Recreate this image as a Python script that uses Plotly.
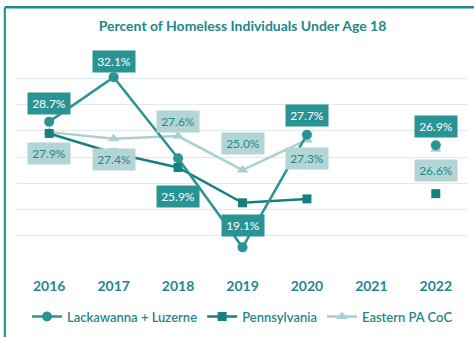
import plotly.graph_objects as go

years = ["2016", "2017", "2018", "2019", "2020", "2021", "2022"]
lackawanna = [28.7, 32.1, 25.9, 19.1, 27.7, None, 26.9]
pennsylvania = [27.8, 26.3, 25.2, 22.5, 22.8, None, 23.2]
eastern_pa = [27.9, 27.4, 27.6, 25.0, 27.3, None, 26.6]

# label offsets (pixels) relative to each point
lack_shift = [18, 16, -38, 22, 19, None, 19]
east_shift = [-21, -21, 15, 27, -19, None, -21]

TEAL = "#2A9494"
DARK = "#17807F"
LIGHT = "#A9CFCF"
TEXT = "#23878A"
FONT = "Lato"

fig = go.Figure()

fig.add_trace(go.Scatter(
    x=years, y=eastern_pa, name="Eastern PA CoC", mode="lines+markers",
    line=dict(color=LIGHT, width=2.5), marker=dict(symbol="triangle-up", size=10, color=LIGHT),
    legendrank=3,
))
fig.add_trace(go.Scatter(
    x=years, y=pennsylvania, name="Pennsylvania", mode="lines+markers",
    line=dict(color=DARK, width=2.5), marker=dict(symbol="square", size=9, color=DARK),
    legendrank=2,
))
fig.add_trace(go.Scatter(
    x=years, y=lackawanna, name="Lackawanna + Luzerne", mode="lines+markers",
    line=dict(color=TEAL, width=2.5), marker=dict(symbol="circle", size=10, color=TEAL),
    legendrank=1,
))

# category axes take the position index for annotations
for i, (v, s) in enumerate(zip(lackawanna, lack_shift)):
    if v is None:
        continue
    fig.add_annotation(
        x=i, y=v, text=f"{v:.1f}%", showarrow=False, yshift=s,
        font=dict(family=FONT, size=12, color="white"),
        bgcolor=TEAL, borderpad=3, width=36,
    )
for i, (v, s) in enumerate(zip(eastern_pa, east_shift)):
    if v is None:
        continue
    fig.add_annotation(
        x=i, y=v, text=f"{v:.1f}%", showarrow=False, yshift=s,
        font=dict(family=FONT, size=12, color=TEXT),
        bgcolor="#B3D5D5", borderpad=3, width=36,
    )

# outer frame: left and top edges
fig.add_shape(type="line", xref="paper", yref="paper",
              x0=-0.027, x1=-0.027, y0=1.213, y1=-0.4,
              line=dict(color="#1E8A8A", width=2))
fig.add_shape(type="line", xref="paper", yref="paper",
              x0=-0.027, x1=1.02, y0=1.213, y1=1.213,
              line=dict(color="#1E8A8A", width=2.5))

fig.update_layout(
    width=474, height=337,
    margin=dict(l=17, r=6, t=52, b=73),
    paper_bgcolor="white", plot_bgcolor="white",
    title=dict(text="<b>Percent of Homeless Individuals Under Age 18</b>",
               x=0.5, xanchor="center", xref="paper", y=0.922, yanchor="middle",
               font=dict(family=FONT, size=14, color=TEXT)),
    xaxis=dict(type="category", range=[-0.5, 6.5], showgrid=False, zeroline=False,
               showline=False, ticks="", ticklabelstandoff=14,
               tickfont=dict(family=FONT, size=14, color=TEXT, weight="bold")),
    yaxis=dict(range=[17.98, 34.02], tickvals=[18, 20, 22, 24, 26, 28, 30, 32, 34],
               showticklabels=False, zeroline=False,
               gridcolor="#DDEBEB", gridwidth=1, showline=False),
    showlegend=True,
    legend=dict(orientation="h", x=0.5, xanchor="center", y=-0.26, yanchor="middle",
                font=dict(family=FONT, size=13, color=TEXT, weight=600), itemwidth=30,
                tracegroupgap=0),
)

fig.write_html("out.html")
